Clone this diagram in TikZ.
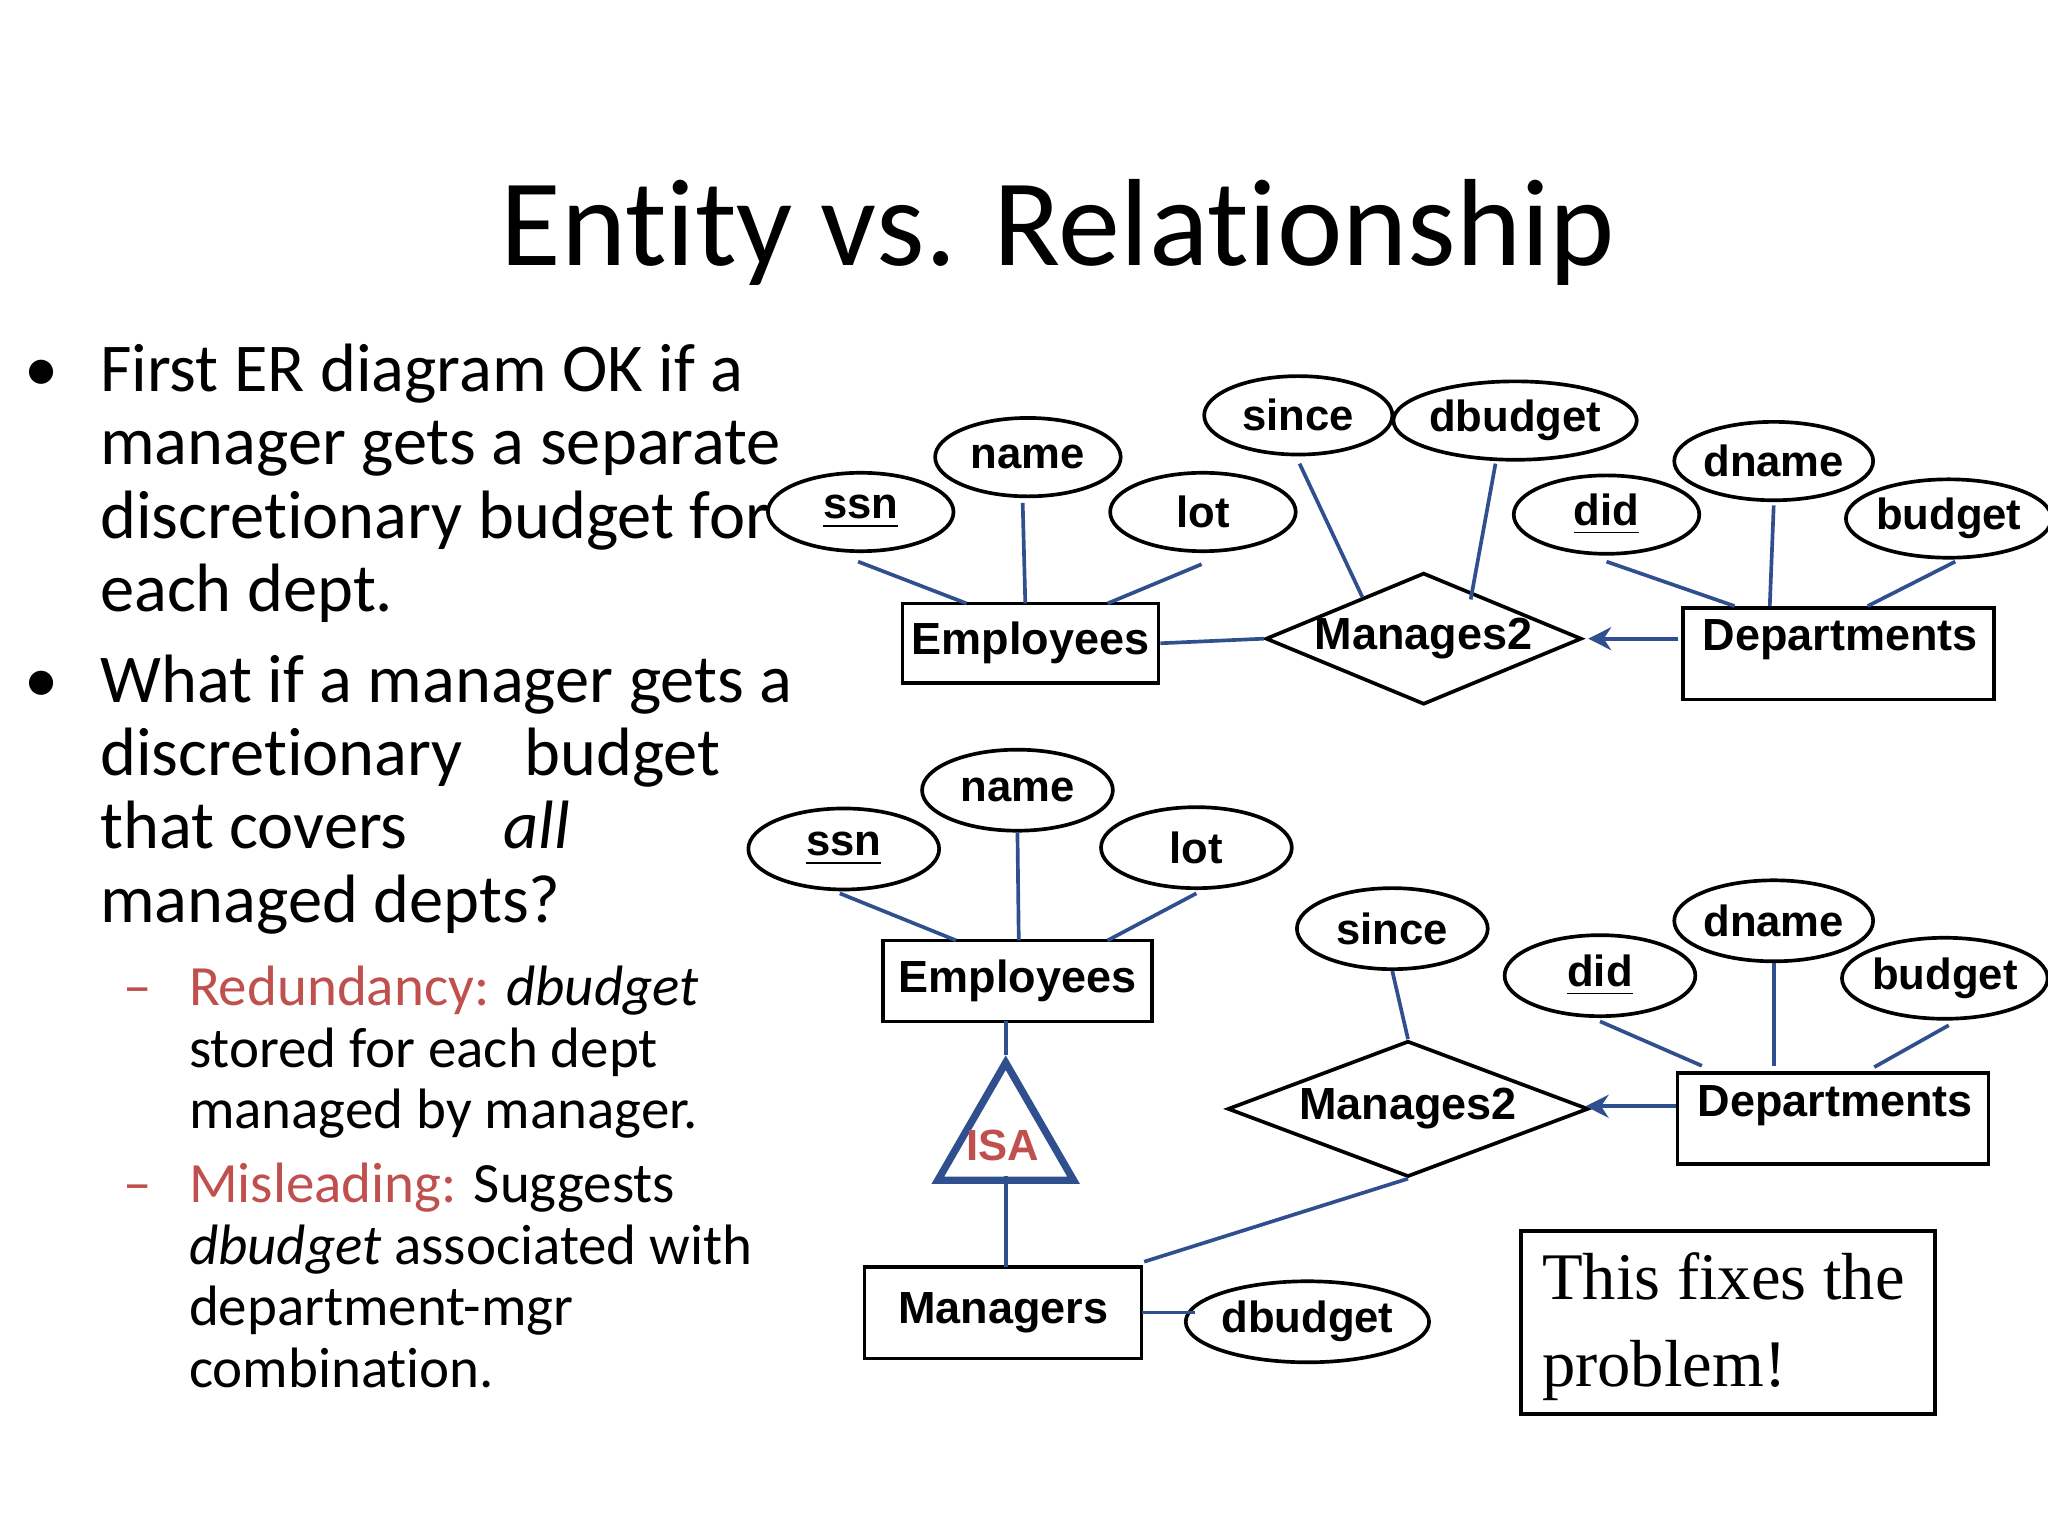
\documentclass[tikz,border=0pt]{standalone}
\usepackage{fontspec}
\setmainfont[Ligatures={NoCommon}]{Carlito}
\newfontfamily\arialf{Liberation Sans}
\newfontfamily\timesf{Liberation Serif}
\usetikzlibrary{shapes.geometric,arrows.meta}
\definecolor{lb}{HTML}{2F4F8F}
\definecolor{rd}{HTML}{C0504D}
\begin{document}
\begin{tikzpicture}[x=0.01cm,y=-0.01cm,
 attr/.style={ellipse,draw,thick,inner sep=0pt,font=\arialf\bfseries\fontsize{9.5}{10}\selectfont},
 ent/.style={rectangle,draw,thick,inner sep=0pt,font=\arialf\bfseries\fontsize{9.8}{11}\selectfont},
 entt/.style={inner sep=0pt,font=\arialf\bfseries\fontsize{9.8}{11}\selectfont},
 rel/.style={diamond,draw,thick,aspect=2.4,inner sep=0pt,font=\arialf\bfseries\fontsize{9.8}{11}\selectfont},
 ln/.style={lb,thick},
 bt/.style={anchor=base west,inner sep=0pt,font=\fontsize{14.9}{18}\selectfont},
 st/.style={anchor=base west,inner sep=0pt,font=\fontsize{12.4}{14}\selectfont}]
\useasboundingbox (0,0) rectangle (1568,1176);
\node[font=\fontsize{27}{30}\selectfont] (title) at (810,178) {Entity vs. Relationship};
% left text
\node[bt] (b1) at (18,300) {\textbullet};
\node[bt] (l1) at (76,300) {First ER diagram OK if a};
\node[bt] (l2) at (76,356) {manager gets a separate};
\node[bt] (l3) at (76,412) {discretionary budget for};
\node[bt] (l4) at (76,468) {each dept.};
\node[bt] (b2) at (18,538) {\textbullet};
\node[bt] (l5) at (76,538) {What if a manager gets a};
\node[bt] (l6) at (76,594) {discretionary\hspace{0.9em}budget};
\node[bt] (l7) at (76,650) {that covers\hspace{1.4em}\textit{all}};
\node[bt] (l8) at (76,706) {managed depts?};
\node[st,rd] (d1) at (94,770) {--};
\node[st] (s1) at (144,770) {\textcolor{rd}{Redundancy:} \textit{dbudget}};
\node[st] (s2) at (144,817) {stored for each dept};
\node[st] (s3) at (144,864) {managed by manager.};
\node[st,rd] (d2) at (94,921) {--};
\node[st] (s4) at (144,921) {\textcolor{rd}{Misleading:} Suggests};
\node[st] (s5) at (144,968) {\textit{dbudget} associated with};
\node[st] (s6) at (144,1015) {department-mgr};
\node[st] (s7) at (144,1062) {combination.};
% top diagram
\node[attr,minimum width=1.42cm,minimum height=0.6cm,fill=white] (ssn1) at (659,392) {\underline{ssn}};
\node[attr,minimum width=1.42cm,minimum height=0.6cm] (name1) at (787,350) {name};
\node[attr,minimum width=1.42cm,minimum height=0.6cm] (lot1) at (921,392) {lot};
\node[attr,minimum width=1.44cm,minimum height=0.6cm] (since1) at (994,318) {since};
\node[attr,minimum width=1.54cm,minimum height=0.6cm] (db1) at (1160,322) {dbudget};
\node[attr,minimum width=1.42cm,minimum height=0.6cm] (did1) at (1230,394) {\underline{did}};
\node[attr,minimum width=1.42cm,minimum height=0.6cm] (dn1) at (1358,353) {dname};
\node[attr,minimum width=1.42cm,minimum height=0.6cm] (bu1) at (1492,397) {budget};
\node[ent,minimum width=1.96cm,minimum height=0.61cm] (emp1) at (789,492.5) {Employees};
\node[rel,minimum width=2.4cm,minimum height=1cm] (m1) at (1090,489) {Manages2};
\node[ent,minimum width=2.38cm,minimum height=0.7cm,anchor=north west] (dep1) at (1287,464) {};
\node[entt,anchor=base] (dep1t) at (1409,498) {Departments};
\draw[ln] (657,430) -- (740,462);
\draw[ln] (783,385) -- (785,462);
\draw[ln] (920,432) -- (848,462);
\draw[ln] (emp1.east) -- (m1.west);
\draw[ln] (995,355) -- (1043,457);
\draw[ln] (1145,355) -- (1126,459);
\draw[ln,-{Stealth[length=5pt,width=5pt]}] (1285,489) -- (1216,489);
\draw[ln] (1230,430) -- (1328,464);
\draw[ln] (1358,387) -- (1355,464);
\draw[ln] (1497,430) -- (1430,464);
% bottom diagram
\node[attr,minimum width=1.46cm,minimum height=0.62cm] (ssn2) at (646,650) {\underline{ssn}};
\node[attr,minimum width=1.46cm,minimum height=0.62cm] (name2) at (779,605) {name};
\node[attr,minimum width=1.46cm,minimum height=0.62cm] (lot2) at (916,649) {lot};
\node[ent,minimum width=2.06cm,minimum height=0.62cm] (emp2) at (779,751) {Employees};
\draw[ln] (643,684) -- (732,720);
\draw[ln] (name2.south) -- (780,720);
\draw[ln] (916,684) -- (848,720);
\node[draw=lb,line width=1.6pt,isosceles triangle,isosceles triangle apex angle=60,shape border rotate=90,minimum height=0.9cm,inner sep=0pt,anchor=apex] (isa) at (770,808) {};
\node[text=rd,font=\arialf\bfseries\fontsize{9.5}{10}\selectfont] (isat) at (768,877) {ISA};
\node[ent,minimum width=2.12cm,minimum height=0.7cm] (mgr) at (768,1005) {Managers};
\node[attr,minimum width=1.72cm,minimum height=0.62cm] (db2) at (1001,1012) {dbudget};
\draw[ln] (770,782) -- (isa.apex);
\draw[ln] (770,900) -- (770,970);
\draw[ln] (874,1005) -- (915,1005);
\node[rel,minimum width=2.76cm,minimum height=1.04cm] (m2) at (1078,849) {Manages2};
\draw[ln] (m2.south) -- (876,966);
\node[attr,minimum width=1.46cm,minimum height=0.62cm] (since2) at (1066,711) {since};
\draw[ln] (since2.south) -- (m2.north);
\node[ent,minimum width=2.38cm,minimum height=0.7cm,anchor=north west] (dep2) at (1283,820) {};
\node[entt,anchor=base] (dep2t) at (1405,855) {Departments};
\draw[ln,-{Stealth[length=5pt,width=5pt]}] (1283,847) -- (1214,847);
\node[attr,minimum width=1.46cm,minimum height=0.62cm] (did2) at (1225,747) {\underline{did}};
\node[attr,minimum width=1.46cm,minimum height=0.62cm] (dn2) at (1358,705) {dname};
\node[attr,minimum width=1.4cm,minimum height=0.62cm] (bu2) at (1489,749) {budget};
\draw[ln] (1225,782) -- (1303,816);
\draw[ln] (dn2.south) -- (1358,816);
\draw[ln] (1492,785) -- (1435,817);
\node[draw,thick,minimum width=3.17cm,minimum height=1.4cm,anchor=north west] (fix) at (1163,941) {};
\node[anchor=north west,align=left,inner sep=0pt,font=\timesf\fontsize{14.5}{19}\selectfont] (fixt) at (1180,958) {This fixes the\\problem!};
\end{tikzpicture}
\end{document}
